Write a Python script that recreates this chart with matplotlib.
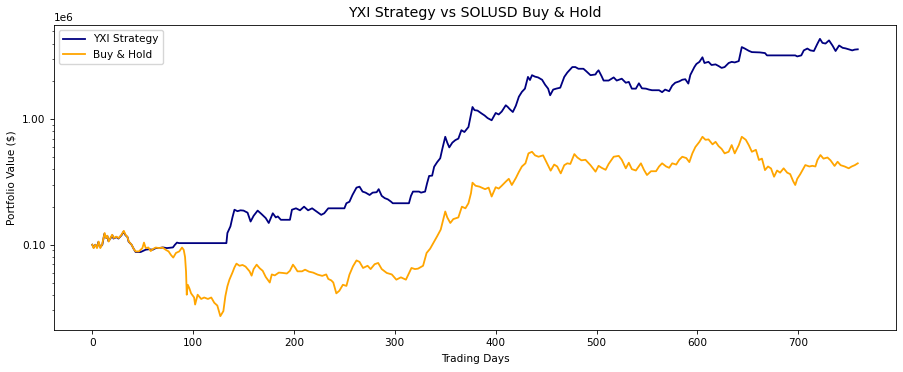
import matplotlib
matplotlib.use('Agg')
import matplotlib.pyplot as plt
from matplotlib.ticker import ScalarFormatter

# YXI strategy portfolio value (trading day, dollars / 1e5)
strategy_days = [0, 1.5, 3, 5, 6, 8, 10, 12, 14, 15, 16, 18, 20, 21, 24, 26, 29, 31, 33, 35,
                 36, 39, 41, 43, 48, 50, 53, 56, 60, 63, 66, 70, 74, 80, 82, 84, 86, 133, 134, 137,
                 139, 141, 144, 147, 150, 154, 157, 160, 164, 168, 172, 175, 179, 182, 184, 187, 190, 196, 198, 202,
                 206, 210, 214, 218, 222, 227, 230, 234, 250, 252, 255, 258, 262, 265, 268, 271, 275, 278, 282, 284,
                 287, 290, 293, 296, 298, 314, 316, 318, 324, 326, 330, 332, 334, 337, 339, 342, 345, 347, 350, 352,
                 354, 357, 360, 363, 366, 369, 373, 375, 377, 379, 382, 386, 389, 392, 396, 400, 403, 406, 410, 412,
                 414, 417, 420, 423, 426, 429, 432, 434, 436, 439, 442, 446, 449, 452, 454, 457, 460, 464, 468, 471,
                 476, 479, 482, 487, 490, 494, 499, 500, 502, 505, 507, 512, 517, 520, 525, 529, 532, 535, 539, 542,
                 545, 549, 552, 555, 562, 565, 568, 572, 575, 578, 582, 585, 588, 591, 593, 597, 599, 602, 605, 607,
                 611, 614, 618, 621, 624, 627, 631, 634, 637, 641, 644, 647, 651, 654, 662, 667, 669, 697, 699, 703,
                 705.5, 709, 712, 715.5, 719, 721.5, 724, 727, 730.5, 734, 737, 740.5, 744, 747, 750, 753.5, 756, 759]
strategy_values = [1.00, 0.95, 1.00, 0.96, 1.05, 0.96, 1.00, 1.22, 1.13, 1.17, 1.07, 1.12, 1.19, 1.12, 1.15, 1.12, 1.19, 1.27, 1.19, 1.15,
                   1.06, 1.00, 0.93, 0.875, 0.875, 0.89, 0.913, 0.92, 0.913, 0.94, 0.94, 0.952, 0.94, 0.952, 1.00, 1.04, 1.03, 1.03, 1.24, 1.40,
                   1.65, 1.90, 1.85, 1.88, 1.87, 1.80, 1.53, 1.70, 1.87, 1.75, 1.63, 1.49, 1.78, 1.65, 1.68, 1.58, 1.58, 1.58, 1.90, 1.95,
                   1.88, 2.01, 1.88, 1.95, 1.85, 1.73, 1.78, 1.95, 1.95, 2.14, 2.20, 2.49, 2.85, 2.90, 2.65, 2.60, 2.49, 2.60, 2.62, 2.77,
                   2.45, 2.35, 2.30, 2.21, 2.14, 2.14, 2.45, 2.65, 2.65, 2.60, 2.65, 3.09, 3.53, 3.55, 4.18, 4.55, 4.88, 5.75, 7.24, 6.50,
                   5.96, 6.50, 6.81, 7.00, 8.17, 7.90, 8.66, 10.4, 12.5, 11.8, 11.7, 11.1, 10.7, 10.2, 9.80, 11.2, 10.9, 11.5, 12.9, 12.5,
                   12.0, 11.4, 12.8, 15.1, 16.5, 17.5, 21.7, 20.5, 22.4, 21.8, 21.5, 20.6, 18.8, 17.5, 15.5, 17.2, 17.5, 17.8, 21.7, 23.5,
                   26.0, 26.0, 25.2, 25.2, 24.0, 22.4, 22.7, 23.5, 24.5, 22.0, 20.3, 20.3, 21.5, 20.3, 21.0, 19.5, 19.8, 17.5, 17.5, 19.3,
                   17.6, 17.5, 17.2, 17.0, 17.0, 16.4, 17.2, 16.7, 18.5, 19.5, 20.0, 20.6, 20.8, 19.2, 22.5, 26.0, 27.5, 28.6, 31.1, 28.0,
                   28.6, 27.0, 27.3, 26.5, 25.6, 26.0, 28.0, 28.6, 28.3, 29.0, 37.5, 36.5, 35.0, 34.2, 34.0, 33.6, 32.2, 32.2, 31.6, 32.2,
                   35.3, 36.5, 35.3, 34.9, 39.9, 43.6, 40.5, 40.0, 42.4, 38.5, 34.9, 38.6, 37.0, 36.6, 36.0, 35.3, 35.8, 36.0]

# SOLUSD buy & hold portfolio value (trading day, dollars / 1e5)
hold_days = [0, 1.3, 3, 4.7, 6.3, 8, 9.7, 12.3, 13.7, 15, 16.3, 18, 19.7, 21.3, 23.7, 26.3, 29, 31.3, 33, 34.7,
             36.3, 39, 41.3, 43, 46.3, 49.7, 51.3, 53, 55.7, 58, 59.7, 63, 66.3, 69.7, 73, 75.7, 78, 80.3, 83, 86.3,
             89, 90.7, 92, 93, 93.7, 94.7, 96.3, 98, 101, 102, 104.5, 108, 111, 114.7, 118, 121, 124, 127, 130, 132,
             134, 136, 139, 141, 143, 146, 149, 152, 156, 158, 160, 163, 166, 169, 172, 176, 178, 181, 185, 189,
             193, 196, 199, 201, 203.5, 208, 211, 215, 219, 223.5, 228, 232, 234, 237, 239, 242, 245, 248.5, 252, 255,
             258.5, 262, 265, 268.5, 273, 276, 280, 283.5, 287, 292, 297, 301.5, 306, 311, 316.5, 320, 323, 328, 331.5, 335,
             339, 342, 345.5, 350, 352, 355, 358, 363, 366.5, 370, 373, 375.5, 377, 380, 384, 389.5, 393, 396, 400, 403,
             406, 410, 413, 416, 420, 423, 426, 429.5, 432.5, 436, 439, 442.5, 447, 450, 454.5, 458, 461, 464.5, 468, 471,
             474, 478, 481, 485, 489, 494, 497, 499, 502, 505, 509, 512, 517, 522, 525, 529, 532, 535, 539, 544,
             547, 550, 554, 559, 562, 565, 569, 572, 575, 579, 582, 585, 589, 592, 595, 598, 602, 605, 608, 611,
             615, 618, 621, 624, 627, 631, 634, 637, 641, 644, 648, 651, 654, 658, 661, 664, 667, 670, 673, 676,
             679, 682, 685.5, 689, 692, 695, 697, 699, 702, 704, 707, 711, 714, 717, 719, 722, 725, 729, 732, 736,
             739, 742, 746, 750, 753, 756, 759]
hold_values = [1.00, 0.94, 1.00, 0.94, 1.06, 0.94, 1.00, 1.24, 1.13, 1.18, 1.06, 1.13, 1.20, 1.13, 1.16, 1.13, 1.20, 1.29, 1.20, 1.16,
               1.06, 1.00, 0.92, 0.885, 0.885, 0.94, 1.04, 0.94, 0.95, 0.89, 0.92, 0.95, 0.94, 0.95, 0.91, 0.885, 0.83, 0.79, 0.86, 0.885,
               0.95, 0.91, 0.80, 0.61, 0.40, 0.48, 0.45, 0.41, 0.38, 0.334, 0.40, 0.37, 0.38, 0.37, 0.38, 0.345, 0.328, 0.27, 0.296, 0.39,
               0.467, 0.527, 0.60, 0.66, 0.707, 0.68, 0.69, 0.67, 0.614, 0.567, 0.64, 0.694, 0.65, 0.62, 0.554, 0.50, 0.58, 0.57, 0.60, 0.596,
               0.59, 0.62, 0.694, 0.66, 0.614, 0.614, 0.633, 0.61, 0.60, 0.578, 0.565, 0.58, 0.534, 0.52, 0.50, 0.41, 0.43, 0.48, 0.47, 0.578,
               0.673, 0.75, 0.73, 0.653, 0.68, 0.64, 0.70, 0.716, 0.64, 0.596, 0.58, 0.527, 0.55, 0.527, 0.653, 0.64, 0.645, 0.68, 0.86, 0.93,
               1.06, 1.17, 1.32, 1.84, 1.65, 1.49, 1.60, 1.65, 2.01, 1.95, 2.14, 2.57, 3.12, 2.95, 2.90, 2.77, 2.85, 2.42, 2.87, 2.80,
               2.95, 3.18, 3.35, 2.99, 3.40, 3.80, 4.20, 4.45, 5.34, 5.50, 5.15, 5.02, 5.15, 4.60, 3.89, 4.35, 4.20, 3.70, 4.30, 4.45,
               4.40, 5.27, 4.95, 4.70, 4.75, 4.30, 4.00, 3.82, 4.25, 4.10, 3.95, 4.40, 5.02, 5.10, 4.75, 4.06, 4.50, 4.00, 3.90, 4.45,
               3.95, 3.59, 3.85, 3.85, 4.20, 4.45, 4.20, 4.10, 4.45, 4.35, 4.75, 5.02, 4.90, 4.55, 5.34, 6.00, 6.60, 7.24, 6.85, 6.90,
               6.30, 6.60, 6.10, 5.80, 5.34, 5.50, 6.22, 5.34, 6.20, 7.24, 6.85, 6.20, 5.50, 5.70, 4.73, 4.85, 3.93, 4.20, 4.05, 3.48,
               3.90, 3.75, 4.06, 3.75, 3.65, 3.20, 2.99, 3.35, 3.65, 3.90, 4.31, 4.20, 4.25, 4.20, 4.73, 5.18, 4.85, 4.95, 4.70, 4.24,
               4.58, 4.30, 4.20, 4.06, 4.20, 4.30, 4.45]

scale = 1e5
strategy = [v * scale for v in strategy_values]
hold = [v * scale for v in hold_values]

# reference looks like a 12x5 figure shrunk to ~75%, so scale text and lines down
plt.rcParams['font.size'] = 7.6
plt.rcParams['axes.linewidth'] = 0.6
plt.rcParams['xtick.major.width'] = 0.6
plt.rcParams['ytick.major.width'] = 0.6
plt.rcParams['ytick.minor.width'] = 0.45
plt.rcParams['xtick.major.size'] = 2.6
plt.rcParams['ytick.major.size'] = 2.6
plt.rcParams['ytick.minor.size'] = 1.5

fig = plt.figure(figsize=(9.04, 3.72), dpi=100)
ax = fig.add_axes([0.0597, 0.1129, 0.9315, 0.8199])

ax.plot(strategy_days, strategy, color='navy', linewidth=1.3, label='YXI Strategy')
ax.plot(hold_days, hold, color='orange', linewidth=1.3, label='Buy & Hold')

ax.set_yscale('log')
ax.yaxis.set_major_formatter(ScalarFormatter())

ax.set_title('YXI Strategy vs SOLUSD Buy & Hold', fontsize=10.2)
ax.set_xlabel('Trading Days')
ax.set_ylabel(r'Portfolio Value (\$)')
ax.legend(loc='upper left')

fig.savefig('out.png', dpi=100)
